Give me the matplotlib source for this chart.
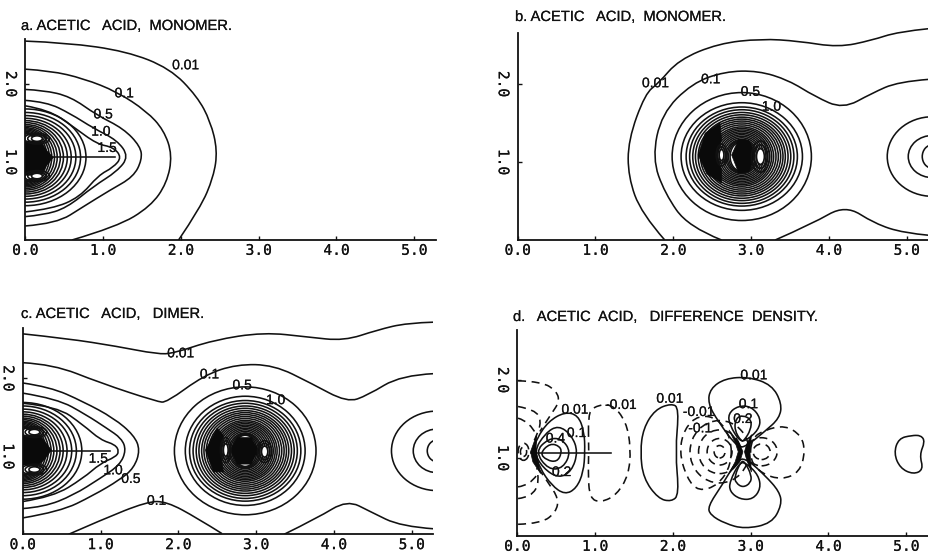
import matplotlib
matplotlib.use('Agg')
import matplotlib.pyplot as plt
import matplotlib.patheffects as pe
from matplotlib.path import Path
from matplotlib.patches import PathPatch, Ellipse

W, H = 929, 555
SX, SY = 77.8, 78.0
YTOP = 2.8
LW = 1.15
DASH = (0, (5, 3.5))
INK = '#111111'

# panel a, contours as (x, y)
a_001 = [(0,2.55),(.53,2.53),(1.30,2.42),(1.86,2.20),(2.21,1.84),(2.38,1.52),(2.47,1.15),(2.42,.81),(2.25,.41),(1.97,0)]
a_01 = [(0,2.19),(.32,2.17),(.75,2.07),(1.18,1.90),(1.56,1.65),(1.78,1.41),(1.89,1.09),(1.82,.73),(1.61,.43),(1.18,.17),(.60,0)]
a_05 = [(0,1.93),(.23,1.92),(.58,1.84),(.92,1.60),(1.26,1.43),(1.48,1.20),(1.50,1.03),(1.39,.81),(1.09,.64),(.75,.43),(.40,.21),(0,.18)]
a_10 = [(0,1.79),(.27,1.77),(.58,1.62),(.88,1.43),(1.18,1.28),(1.33,1.07),(1.18,.88),(.88,.69),(.53,.41),(.23,.32),(0,.30)]
a_15 = [(0,1.72),(.3,1.67),(.62,1.45),(.92,1.23),(1.13,1.19),(1.24,1.06),(1.13,.93),(.94,.83),(.70,.55),(.35,.40),(0,.36)]
a_rx = [.78,.71,.65,.59,.54,.49,.45,.41,.375,.34,.31,.28,.25,.22,.20]
a_ry = [.62,.575,.535,.50,.47,.445,.42,.40,.38,.365,.35,.335,.32,.31,.30]
a_core = [(0,1.27),(.2,1.27),(.27,1.15),(.36,1.06),(.27,.95),(.2,.83),(0,.83)]
a_lobes = [(.15,1.30,.07,.035),(.15,.82,.07,.035)]
a_bond = [(.36,1.06),(1.15,1.06)]

# panel b
b_001 = [(1.89,0),(1.59,.34),(1.42,.81),(1.42,1.28),(1.64,1.88),(1.81,2.01),(2.07,2.31),(2.58,2.52),(3.13,2.58),(3.61,2.55),(4.12,2.47),(4.55,2.56),(4.89,2.67),(5.29,2.71)]
b_01 = [(2.62,0),(2.19,.17),(1.89,.60),(1.73,1.05),(1.85,1.62),(2.24,2.01),(2.66,2.16),(3.09,2.17),(3.48,2.05),(3.82,1.84),(4.18,1.68),(4.55,1.88),(4.89,2.03),(5.29,2.06)]
b_01_low = [(3.31,0),(3.79,.21),(4.21,.45),(4.59,.21),(4.96,.09),(5.29,.06)]
b_rx = [.895,.78,.715,.67,.63,.595,.56,.53,.50,.47,.44,.41,.385,.36,.335,.31,.285,.26,.235,.21,.19,.17,.15]
b_ry = [.82,.69,.635,.60,.565,.535,.505,.48,.455,.43,.405,.38,.36,.34,.32,.30,.28,.26,.24,.22,.21,.20,.19]
b_dark_left = [(2.32,1.09),(2.41,1.37),(2.60,1.50),(2.62,1.29),(2.56,1.09),(2.62,.90),(2.62,.73),(2.43,.85)]
b_dark_mid = [(2.75,1.09),(2.84,1.29),(2.97,1.28),(3.05,1.09),(2.97,.88),(2.84,.86)]
b_holes = [(2.62,1.09,.03,.07),(3.12,1.07,.05,.10)]
b_end_rx = [.58,.31,.13]
b_end_ry = [.51,.27,.15]

# panel c
c_001 = [(0,2.57),(.57,2.51),(1.21,2.41),(1.73,2.31),(1.94,2.32),(2.45,2.49),(3.10,2.59),(3.66,2.53),(4.13,2.48),(4.56,2.62),(4.94,2.71),(5.29,2.72)]
c_01 = [(0,2.20),(.39,2.18),(1.0,1.94),(1.73,1.70),(1.85,1.69),(2.33,2.04),(2.75,2.18),(3.23,2.17),(3.70,1.94),(4.17,1.69),(4.43,1.78),(4.86,2.04),(5.29,2.06)]
c_01_low1 = [(.59,0),(1.0,.18),(1.60,.42),(1.85,.42),(2.24,.21),(2.56,.01)]
c_01_low2 = [(3.36,0),(3.79,.21),(4.17,.44),(4.47,.29),(4.86,.10),(5.29,.07)]
c_05 = [(0,1.94),(.35,1.89),(.78,1.70),(1.17,1.49),(1.43,1.27),(1.51,1.08),(1.43,.85),(1.25,.70),(.91,.50),(.48,.29),(0,.21)]
c_10 = [(0,1.81),(.44,1.74),(.82,1.53),(1.08,1.36),(1.27,1.23),(1.33,1.08),(1.25,.89),(1.0,.72),(.65,.50),(.27,.35),(0,.33)]
c_15 = [(0,1.68),(.44,1.64),(.78,1.40),(1.0,1.21),(1.19,1.15),(1.24,1.06),(1.19,.99),(1.0,.91),(.78,.72),(.39,.48),(0,.42)]
c_rx = [.76,.69,.63,.57,.52,.48,.44,.40,.365,.33,.30,.27,.24,.21,.19]
c_ry = [.62,.575,.535,.50,.47,.445,.42,.40,.38,.365,.35,.335,.32,.31,.30]
c_core = [(0,1.27),(.22,1.27),(.30,1.17),(.37,1.08),(.28,.96),(.18,.87),(0,.89)]
c_lobes = [(.15,1.31,.07,.035),(.15,.83,.07,.035)]
c_bond = [(.37,1.07),(1.12,1.07)]
c_mid_rx = [.91,.77,.715,.67,.63,.595,.56,.53,.50,.47,.44,.41,.385,.36,.335,.31,.285,.26,.235,.21,.19,.17,.15]
c_mid_ry = [.82,.70,.645,.61,.575,.545,.515,.49,.465,.44,.415,.39,.37,.35,.33,.31,.29,.27,.25,.23,.22,.21,.20]
c_dark_left = [(2.35,1.08),(2.50,1.36),(2.58,1.27),(2.54,1.08),(2.58,.80),(2.45,.80)]
c_dark_mid = [(2.67,1.08),(2.76,1.24),(2.94,1.24),(3.03,1.08),(2.94,.90),(2.76,.90)]
c_holes = [(2.61,1.08,.03,.08),(3.11,1.06,.04,.07)]
c_end_rx = [.59,.31,.13]
c_end_ry = [.51,.28,.14]

# panel d, solid
d_pos = [
    [(.21,1.10),(.25,1.25),(.40,1.47),(.61,1.59),(.78,1.55),(.86,1.34),(.87,1.08),(.85,.82),(.76,.61),(.61,.53),(.44,.65),(.29,.87)],
    [(.21,1.08),(.36,1.32),(.53,1.42),(.70,1.29),(.78,1.08),(.70,.83),(.53,.74),(.33,.87)],
    [(.23,1.08),(.40,1.25),(.57,1.25),(.69,1.08),(.59,.87),(.40,.85)],
    [(.29,1.06),(.42,1.19),(.55,1.15),(.57,1.06),(.51,.95),(.38,.97)],
    [(1.58,1.08),(1.62,1.38),(1.77,1.62),(1.98,1.70),(2.08,1.64),(2.03,1.08),(2.08,.53),(1.98,.44),(1.81,.48),(1.62,.74)],
    [(2.84,1.12),(2.58,1.47),(2.45,1.70),(2.48,1.89),(2.67,2.02),(2.97,2.04),(3.27,1.94),(3.40,1.70),(3.37,1.51),(3.18,1.34),(2.97,1.17)],
    [(2.84,1.0),(2.63,.65),(2.45,.38),(2.48,.27),(2.67,.16),(2.92,.09),(3.27,.16),(3.40,.40),(3.37,.57),(3.18,.78),(2.97,.97)],
    [(2.86,1.21),(2.73,1.42),(2.71,1.57),(2.84,1.67),(3.01,1.66),(3.13,1.51),(3.10,1.36),(2.95,1.23)],
    [(2.86,.95),(2.73,.70),(2.73,.57),(2.86,.47),(3.03,.47),(3.13,.61),(3.10,.78),(2.95,.93)],
    [(2.88,1.21),(2.79,1.36),(2.81,1.51),(2.90,1.55),(3.01,1.49),(3.0,1.36),(2.92,1.23)],
    [(2.88,.97),(2.79,.76),(2.81,.68),(2.90,.62),(3.0,.68),(3.01,.78),(2.93,.94)],
    [(5.07,1.29),(4.90,1.25),(4.84,1.06),(4.92,.87),(5.09,.79),(5.22,.85),(5.17,1.04),(5.24,1.21),(5.19,1.29)],
]
# panel d, dashed, open then closed
d_neg_open = [
    [(.01,1.99),(.32,1.98),(.51,1.85),(.54,1.72),(.44,1.57),(.29,1.34)],
    [(.01,.15),(.31,.16),(.50,.31),(.53,.48),(.40,.68),(.27,.87)],
    [(.01,1.66),(.23,1.62),(.31,1.47),(.25,1.29),(.21,1.21)],
    [(.01,1.51),(.16,1.47),(.25,1.29)],
    [(.01,.48),(.18,.50),(.29,.70),(.25,.87)],
    [(.01,.63),(.16,.65),(.25,.78)],
]
d_neg_closed = [
    [(.91,1.55),(.98,1.66),(1.21,1.70),(1.40,1.47),(1.46,1.12),(1.43,.78),(1.28,.53),(1.08,.43),(.93,.48),(.91,.82),(.92,1.08)],
    [(2.75,1.25),(2.58,1.51),(2.33,1.55),(2.15,1.38),(2.08,1.08),(2.18,.74),(2.33,.57),(2.58,.65),(2.75,.91)],
    [(3.01,1.25),(3.18,1.36),(3.44,1.42),(3.65,1.29),(3.70,1.08),(3.63,.82),(3.40,.72),(3.14,.80),(2.99,.97)],
]
d_left_rx = [.38,.27,.16,.07]
d_left_ry = [.40,.28,.17,.08]
d_right_rx = [.20,.11]
d_right_ry = [.18,.10]
d_bond = [(.18,1.07),(1.21,1.07)]
d_knot_left = [(.17,1.08),(.25,1.30),(.24,1.10),(.30,.80),(.2,.95)]
d_knot_a = [(2.72,.80),(2.80,.95),(2.84,1.08),(2.80,1.20),(2.72,1.36),(2.86,1.18),(2.90,1.08),(2.86,.95)]
d_knot_b = [(3.01,.82),(2.95,.97),(2.92,1.08),(2.95,1.18),(3.01,1.30),(2.99,1.08)]

a_labels = [('0.01',2.06,2.24),('0.1',1.27,1.88),('0.5',1.0,1.61),('1.0',.97,1.39),('1.5',1.05,1.18)]
b_labels = [('0.01',1.77,2.01),('0.1',2.48,2.06),('0.5',2.99,1.90),('1.0',3.26,1.71)]
c_labels = [('0.01',2.03,2.32),('0.1',2.40,2.05),('0.5',2.82,1.91),('1.0',3.25,1.72),('1.5',.97,.97),
            ('1.0',1.16,.82),('0.5',1.39,.71),('0.1',1.72,.43)]
d_labels = [('0.01',.74,1.62),('0.1',.76,1.32),('0.4',.49,1.25),('0.2',.57,.82),('-0.01',1.33,1.68),('0.01',1.96,1.76),
            ('-0.01',2.33,1.59),('-0.1',2.35,1.38),('0.01',3.04,2.06),('0.1',2.97,1.69),('0.2',2.90,1.50)]

xticks = [0, 1, 2, 3, 4, 5]
yticks = [1, 2]
ticklabels = ['0.0', '1.0', '2.0', '3.0', '4.0', '5.0']

heavy = [pe.withStroke(linewidth=0.12, foreground=INK)]


def curve(ax, pts, closed=False, ls='-'):
    # quadratic segments through the read points
    mid = lambda p, q: ((p[0] + q[0]) / 2, (p[1] + q[1]) / 2)
    n = len(pts)
    if closed:
        verts = [mid(pts[-1], pts[0])]
        for i in range(n):
            verts += [pts[i], mid(pts[i], pts[(i + 1) % n])]
    else:
        verts = [pts[0]]
        for i in range(1, n - 1):
            end = pts[i + 1] if i == n - 2 else mid(pts[i], pts[i + 1])
            verts += [pts[i], end]
    codes = [Path.MOVETO] + [Path.CURVE3] * (len(verts) - 1)
    ax.add_patch(PathPatch(Path(verts, codes), fill=False, ec=INK, lw=LW, ls=ls))


def rings(ax, cx, cy, rx, ry, ls='-', lw=LW):
    for a, b in zip(rx, ry):
        ax.add_patch(Ellipse((cx, cy), 2 * a, 2 * b, fill=False, ec=INK, lw=lw, ls=ls))


def blob(ax, pts):
    ax.fill([p[0] for p in pts], [p[1] for p in pts], color='#0a0a0a', lw=0.5, zorder=3)


def holes(ax, items):
    for x, y, a, b in items:
        ax.add_patch(Ellipse((x, y), 2 * a, 2 * b, fc='white', ec=INK, lw=LW, zorder=4))
        ax.add_patch(Ellipse((x, y), 3.4 * a, 3 * b, fill=False, ec=INK, lw=LW, zorder=4))
        ax.add_patch(Ellipse((x, y), 4.6 * a, 4 * b, fill=False, ec=INK, lw=LW, zorder=4))


def panel(left, right, bottom, top_val, title, tx, ty, labels):
    ax = fig.add_axes([left / W, (H - bottom) / H, (right - left) / W, YTOP * SY / H])
    ax.set_xlim(0, (right - left) / SX)
    ax.set_ylim(0, YTOP)
    ax.patch.set_alpha(0)
    ax.spines['top'].set_visible(False)
    ax.spines['right'].set_visible(False)
    ax.spines['left'].set_bounds(0, top_val)
    for s in ['left', 'bottom']:
        ax.spines[s].set_linewidth(1.3)
        ax.spines[s].set_color(INK)
    ax.set_xticks(xticks)
    ax.set_xticklabels(ticklabels, family='DejaVu Sans Mono', fontsize=10.5, color=INK, path_effects=heavy)
    ax.set_yticks(yticks)
    ax.set_yticklabels(ticklabels[1:3], family='DejaVu Sans Mono', fontsize=10.5, color=INK,
                       rotation=-90, va='center', path_effects=heavy)
    ax.tick_params(direction='in', length=3, width=1, color=INK)
    ax.tick_params(axis='x', pad=2)
    ax.tick_params(axis='y', pad=5)
    fig.text(tx / W, 1 - ty / H, title, family='Liberation Sans', fontsize=10.6, color=INK, va='center', path_effects=heavy)
    for s, x, y in labels:
        ax.text(x, y, s, family='Liberation Sans', fontsize=10, color=INK, ha='center', va='center', zorder=5, path_effects=heavy)
    return ax


fig = plt.figure(figsize=(W / 100, H / 100), dpi=100)

# a
ax = panel(25.3, 436, 240, 2.58, 'a. ACETIC   ACID,  MONOMER.', 21, 26, a_labels)
for c in [a_001, a_01, a_05, a_10, a_15]:
    curve(ax, c)
rings(ax, 0, 1.06, a_rx, a_ry)
blob(ax, a_core)
holes(ax, a_lobes)
ax.plot(*zip(*a_bond), color=INK, lw=LW)

# b
ax = panel(517.7, 929, 240, 2.66, 'b. ACETIC   ACID,  MONOMER.', 515, 17, b_labels)
for c in [b_001, b_01, b_01_low]:
    curve(ax, c)
rings(ax, 2.88, 1.07, b_rx, b_ry)
rings(ax, 5.33, 1.07, b_end_rx, b_end_ry)
blob(ax, b_dark_left)
blob(ax, b_dark_mid)
holes(ax, b_holes)

# c
ax = panel(22.7, 433, 534.3, 2.64, 'c. ACETIC   ACID,   DIMER.', 21, 314, c_labels)
for c in [c_001, c_01, c_01_low1, c_01_low2, c_05, c_10, c_15]:
    curve(ax, c)
rings(ax, 0, 1.07, c_rx, c_ry)
blob(ax, c_core)
holes(ax, c_lobes)
ax.plot(*zip(*c_bond), color=INK, lw=LW)
rings(ax, 2.86, 1.07, c_mid_rx, c_mid_ry)
rings(ax, 5.33, 1.07, c_end_rx, c_end_ry)
blob(ax, c_dark_left)
blob(ax, c_dark_mid)
holes(ax, c_holes)

# d
ax = panel(517.3, 929, 536, 2.64, 'd.   ACETIC  ACID,   DIFFERENCE  DENSITY.', 513, 317, d_labels)
for c in d_pos:
    curve(ax, c, closed=True)
for c in d_neg_open:
    curve(ax, c, ls=DASH)
for c in d_neg_closed:
    curve(ax, c, closed=True, ls=DASH)
rings(ax, 2.6, 1.08, d_left_rx, d_left_ry, ls=DASH)
rings(ax, 3.14, 1.08, d_right_rx, d_right_ry, ls=DASH)
rings(ax, .08, 1.08, [.07, .04], [.11, .06], ls=DASH)
ax.plot(*zip(*d_bond), color=INK, lw=LW)
blob(ax, d_knot_left)
blob(ax, d_knot_a)
blob(ax, d_knot_b)

fig.savefig('out.png', dpi=100)
